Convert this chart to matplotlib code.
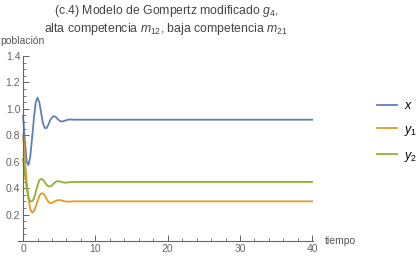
import matplotlib
matplotlib.use("Agg")
import matplotlib.pyplot as plt
from matplotlib.ticker import MultipleLocator

plt.rcParams['font.family'] = ['Liberation Sans', 'DejaVu Sans']
plt.rcParams['mathtext.fontset'] = 'custom'
plt.rcParams['mathtext.rm'] = 'Liberation Sans'
plt.rcParams['mathtext.it'] = 'Liberation Sans:italic'

# values
t = [0, 0.25, 0.5, 0.75, 1.0, 1.25, 1.5, 1.75, 2.0, 2.25, 2.5, 2.75, 3.0, 3.25,
     3.5, 3.75, 4.0, 4.25, 4.5, 4.75, 5.0, 5.25, 5.5, 5.75, 6.0, 6.5, 7.0, 8.0,
     10, 15, 20, 25, 30, 35, 40]
x_vals = [0.95, 0.75, 0.60, 0.575, 0.64, 0.78, 0.93, 1.05, 1.085, 1.05, 0.97,
          0.89, 0.855, 0.855, 0.88, 0.915, 0.935, 0.945, 0.94, 0.925, 0.912,
          0.905, 0.905, 0.91, 0.915, 0.92, 0.918, 0.918,
          0.918, 0.918, 0.918, 0.918, 0.918, 0.918, 0.918]
y1_vals = [0.80, 0.62, 0.45, 0.32, 0.24, 0.215, 0.225, 0.26, 0.30, 0.34, 0.36,
           0.36, 0.345, 0.32, 0.297, 0.287, 0.288, 0.295, 0.303, 0.308, 0.31,
           0.308, 0.304, 0.30, 0.298, 0.298, 0.30, 0.30,
           0.30, 0.30, 0.30, 0.30, 0.30, 0.30, 0.30]
y2_vals = [0.62, 0.50, 0.40, 0.33, 0.30, 0.30, 0.32, 0.37, 0.42, 0.46, 0.47,
           0.465, 0.445, 0.425, 0.413, 0.413, 0.42, 0.435, 0.447, 0.452, 0.452,
           0.448, 0.444, 0.442, 0.442, 0.445, 0.447, 0.447,
           0.447, 0.447, 0.447, 0.447, 0.447, 0.447, 0.447]
labels = ['$x$', '$y_1$', '$y_2$']
colors = ['#5E81B5', '#E19C24', '#8FB032']

gray = '#666666'

fig = plt.figure(figsize=(4.18, 2.59), dpi=100)
ax = fig.add_axes([18 / 418, 18 / 259, (313 - 18) / 418, (241 - 56) / 259])

for ys, lab, c in zip([x_vals, y1_vals, y2_vals], labels, colors):
    ax.plot(t, ys, color=c, lw=1.3, label=lab)

ax.set_xlim(-0.7, 40.1)
ax.set_ylim(0, 1.4)
ax.spines['left'].set_position(('data', 0))
ax.spines['top'].set_visible(False)
ax.spines['right'].set_visible(False)
for s in ['left', 'bottom']:
    ax.spines[s].set_color(gray)
    ax.spines[s].set_linewidth(0.8)

ax.xaxis.set_major_locator(MultipleLocator(10))
ax.xaxis.set_minor_locator(MultipleLocator(2))
ax.set_yticks([0.2, 0.4, 0.6, 0.8, 1.0, 1.2, 1.4])
ax.yaxis.set_minor_locator(MultipleLocator(0.05))
ax.tick_params(which='both', direction='in', color=gray, labelcolor=gray,
               labelsize=7.5)
ax.tick_params(which='major', length=4, width=0.7)
ax.tick_params(which='minor', length=2, width=0.6)
ax.tick_params(axis='x', pad=2)
ax.tick_params(axis='y', pad=2)
ax.set_xticks([0, 10, 20, 30, 40])

fig.text(0 / 418, 1 - 44 / 259, 'población', fontsize=7.5, color='#555555',
         va='baseline', ha='left')
fig.text(325 / 418, 1 - 244 / 259, 'tiempo', fontsize=7.5, color='#555555',
         va='baseline', ha='left')

fig.text(166 / 418, 1 - 14 / 259, '(c.4) Modelo de Gompertz modificado $g_4$,',
         fontsize=8.8, color='#444444', ha='center', va='baseline')
fig.text(166 / 418, 1 - 32 / 259,
         'alta competencia $m_{12}$, baja competencia $m_{21}$',
         fontsize=8.8, color='#444444', ha='center', va='baseline')

ax.legend(loc='upper left', bbox_to_anchor=(372 / 418, 1 - 95 / 259),
          bbox_transform=fig.transFigure, frameon=False, fontsize=9,
          handlelength=1.6, handletextpad=0.6, labelspacing=0.95,
          borderaxespad=0)

fig.savefig('out.png', dpi=100)
